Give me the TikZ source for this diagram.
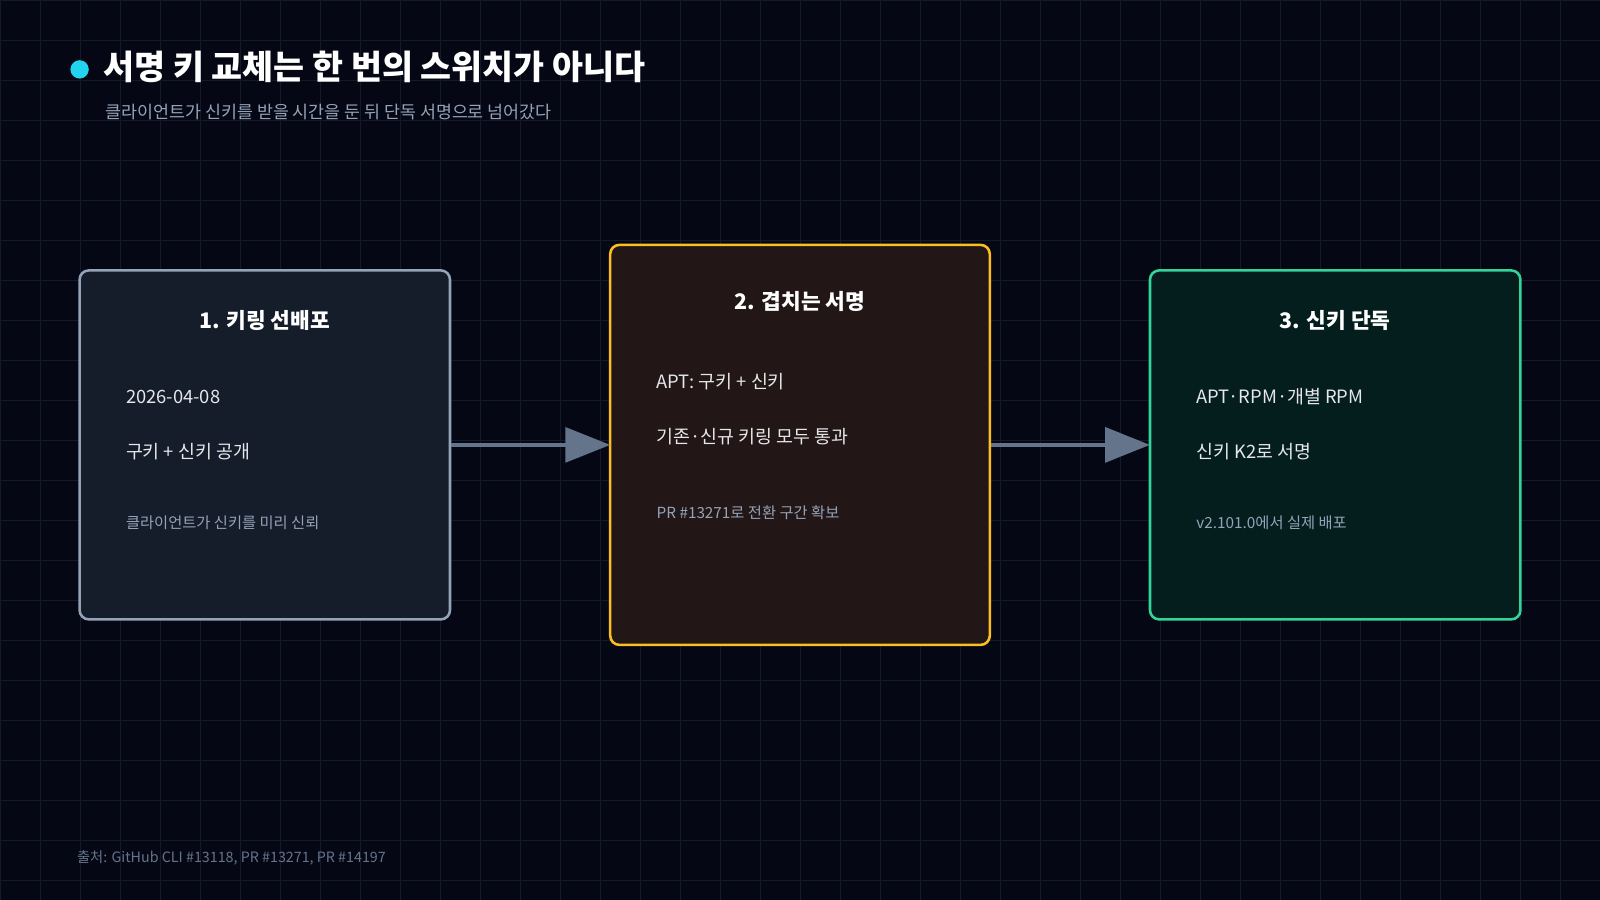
\documentclass[tikz,border=0pt]{standalone}
\usepackage{fontspec}
\setmainfont{Noto Sans CJK KR}
\usetikzlibrary{arrows.meta}
\definecolor{bgc}{HTML}{050814}
\definecolor{gridc}{HTML}{151A28}
\definecolor{cyanc}{HTML}{22D3EE}
\definecolor{subc}{HTML}{94A3B8}
\definecolor{arrc}{HTML}{64748B}
\definecolor{grayb}{HTML}{94A3B8}
\definecolor{grayf}{HTML}{151C2A}
\definecolor{yelb}{HTML}{FBBF24}
\definecolor{yelf}{HTML}{221616}
\definecolor{greb}{HTML}{34D399}
\definecolor{gref}{HTML}{041E1E}
\definecolor{bodyc}{HTML}{E5E7EB}
\tikzset{
  box/.style={draw, line width=2.5pt, rounded corners=9pt},
  boxtitle/.style={font=\bfseries\fontsize{21}{25}\selectfont, text=white},
  bodytxt/.style={anchor=west, font=\fontsize{18}{22}\selectfont, text=bodyc},
  smalltxt/.style={anchor=west, font=\fontsize{15}{18}\selectfont, text=subc},
  flow/.style={-{Triangle[length=44pt,width=34pt]}, line width=4pt, draw=arrc}
}
\begin{document}
\begin{tikzpicture}[x=1pt,y=-1pt]
\fill[bgc] (0,0) rectangle (1568,882);
\useasboundingbox (0,0) rectangle (1568,882);
% grid
\foreach \i in {0,...,40} \draw[gridc, line width=0.8pt] (\i*39.2,0) -- (\i*39.2,882);
\foreach \j in {0,...,22} \draw[gridc, line width=0.8pt] (0,\j*39.2) -- (1568,\j*39.2);

% heading
\fill[cyanc] (78,68) circle (9);
\node[anchor=west, font=\bfseries\fontsize{33}{38}\selectfont, text=white] (title) at (98,66) {서명 키 교체는 한 번의 스위치가 아니다};
\node[anchor=west, font=\fontsize{17}{20}\selectfont, text=subc] (sub) at (100,110) {클라이언트가 신키를 받을 시간을 둔 뒤 단독 서명으로 넘어갔다};

% boxes
\draw[box, draw=grayb, fill=grayf] (78,265) rectangle (441,607);
\coordinate (b1) at (259.5,436);
\draw[box, draw=yelb, fill=yelf] (598,240) rectangle (970,632);
\draw[box, draw=greb, fill=gref] (1127,265) rectangle (1490,607);
\node (b1e) at (441,436) {};
\coordinate (b1r) at (442,436);
\coordinate (b2l) at (598,436);
\coordinate (b2r) at (971,436);
\coordinate (b3l) at (1127,436);

% box 1
\node[boxtitle] (t1) at (259.5,314) {1. 키링 선배포};
\node[bodytxt] (d1) at (120,389) {2026-04-08};
\node[bodytxt] (e1) at (120,443) {구키 + 신키 공개};
\node[smalltxt] (s1) at (120,512) {클라이언트가 신키를 미리 신뢰};

% box 2
\node[boxtitle] (t2) at (784,295) {2. 겹치는 서명};
\node[bodytxt] (d2) at (640,374) {APT: 구키 + 신키};
\node[bodytxt] (e2) at (640,428) {기존·신규 키링 모두 통과};
\node[smalltxt] (s2) at (640,502) {PR \#13271로 전환 구간 확보};

% box 3
\node[boxtitle] (t3) at (1308.5,314) {3. 신키 단독};
\node[bodytxt] (d3) at (1169,389) {APT·RPM·개별 RPM};
\node[bodytxt] (e3) at (1169,443) {신키 K2로 서명};
\node[smalltxt] (s3) at (1169,512) {v2.101.0에서 실제 배포};

% arrows
\draw[flow] (b1r) -- (b2l);
\draw[flow] (b2r) -- (b3l);

\node[anchor=west, font=\fontsize{14}{17}\selectfont, text=arrc] (src) at (72,841) {출처: GitHub CLI \#13118, PR \#13271, PR \#14197};
\end{tikzpicture}
\end{document}
